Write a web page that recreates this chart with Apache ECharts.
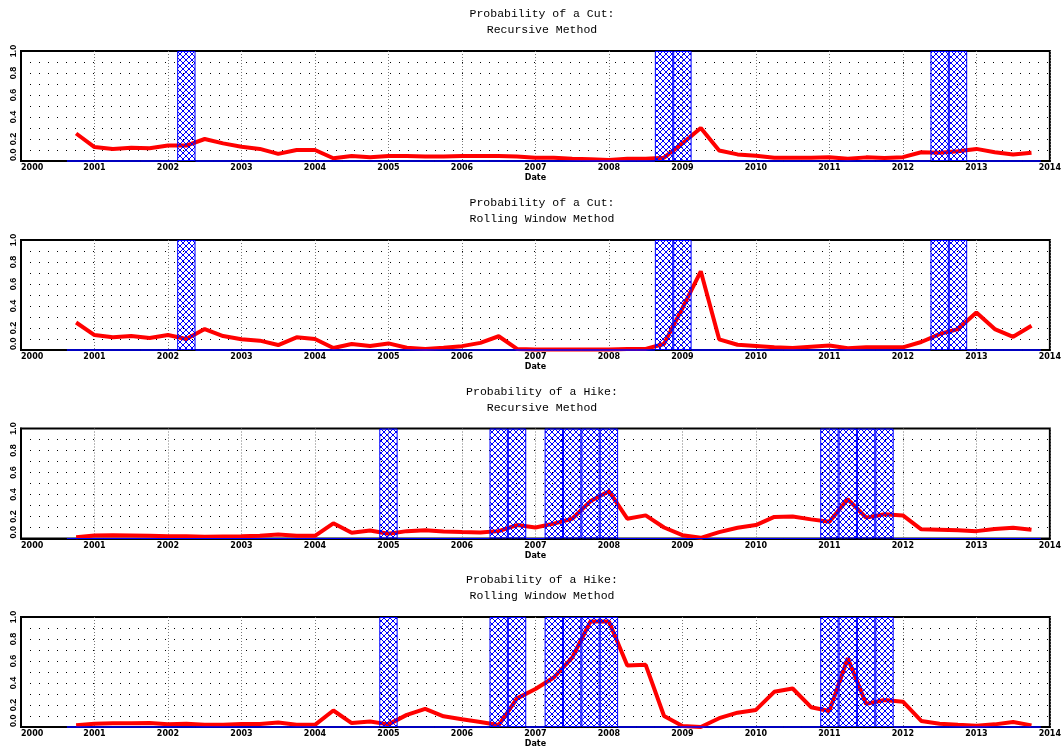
<!DOCTYPE html>
<html>
<head>
<meta charset="utf-8">
<script src="https://cdn.jsdelivr.net/npm/echarts@6/dist/echarts.min.js"></script>
<style>
html,body{margin:0;padding:0;background:#fff;}
#chart{width:1064px;height:750px;}
</style>
</head>
<body>
<div id="chart"></div>
<script>
// Quarterly dates (decimal years)
var dates = [2000.75,2001.0,2001.25,2001.5,2001.75,2002.0,2002.25,2002.5,2002.75,2003.0,2003.25,2003.5,2003.75,
  2004.0,2004.25,2004.5,2004.75,2005.0,2005.25,2005.5,2005.75,2006.0,2006.25,2006.5,2006.75,2007.0,2007.25,2007.5,2007.75,
  2008.0,2008.25,2008.5,2008.75,2009.0,2009.25,2009.5,2009.75,2010.0,2010.25,2010.5,2010.75,2011.0,2011.25,2011.5,2011.75,
  2012.0,2012.25,2012.5,2012.75,2013.0,2013.25,2013.5,2013.75];

var cutRecursive = [0.25,0.127,0.11,0.12,0.115,0.14,0.14,0.2,0.16,0.13,0.11,0.065,0.1,0.1,0.025,0.045,0.035,0.045,
  0.045,0.04,0.04,0.045,0.045,0.045,0.04,0.03,0.03,0.02,0.015,0.01,0.02,0.02,0.03,
  0.16,0.30,0.095,0.06,0.048,0.03,0.03,0.03,0.035,0.02,0.033,0.027,0.035,0.08,0.075,0.088,0.11,0.08,0.06,0.075];

var cutRolling = [0.25,0.136,0.115,0.127,0.11,0.136,0.10,0.19,0.127,0.097,0.085,0.045,0.115,0.10,0.018,0.055,0.036,0.06,
  0.02,0.01,0.02,0.035,0.065,0.125,0.01,0.005,0.005,0.005,0.005,0.005,0.01,0.01,0.055,
  0.38,0.715,0.097,0.048,0.036,0.024,0.018,0.03,0.04,0.015,0.024,0.024,0.024,0.073,0.145,0.19,0.34,0.19,0.12,0.22];

var hikeRecursive = [0.012,0.027,0.03,0.027,0.024,0.02,0.02,0.015,0.018,0.02,0.024,0.037,0.024,0.024,0.138,0.052,0.073,0.043,
  0.067,0.076,0.064,0.058,0.055,0.067,0.122,0.1,0.135,0.18,0.34,0.43,0.18,0.21,0.10,
  0.03,0.006,0.058,0.098,0.122,0.196,0.2,0.174,0.153,0.358,0.19,0.22,0.21,0.083,0.08,0.076,0.067,0.086,0.098,0.08];

var hikeRolling = [0.015,0.03,0.033,0.033,0.036,0.024,0.03,0.02,0.02,0.027,0.027,0.04,0.02,0.02,0.15,0.036,0.05,0.024,
  0.11,0.164,0.097,0.07,0.045,0.018,0.26,0.345,0.45,0.63,0.96,0.96,0.56,0.565,0.10,
  0.01,0.0,0.08,0.13,0.155,0.32,0.35,0.18,0.146,0.625,0.21,0.245,0.23,0.055,0.03,0.02,0.012,0.024,0.046,0.015];

// Regime indicators (1 = shaded quarter)
var cutRegime = [0,0,0,0,0,0,1,0,0,0,0,0,0,0,0,0,0,0,
  0,0,0,0,0,0,0,0,0,0,0,0,0,0,1,
  1,0,0,0,0,0,0,0,0,0,0,0,0,0,1,1,0,0,0,0];
var hikeRegime = [0,0,0,0,0,0,0,0,0,0,0,0,0,0,0,0,0,1,
  0,0,0,0,0,1,1,0,1,1,1,1,0,0,0,
  0,0,0,0,0,0,0,0,1,1,1,1,0,0,0,0,0,0,0,0];

var titles = ["Probability of a Cut:\nRecursive Method",
              "Probability of a Cut:\nRolling Window Method",
              "Probability of a Hike:\nRecursive Method",
              "Probability of a Hike:\nRolling Window Method"];
var xTicks = [2000, 2014, 1];
var yTicks = [0, 1, 0.1];

var probs = [cutRecursive, cutRolling, hikeRecursive, hikeRolling];
var regimes = [cutRegime, cutRegime, hikeRegime, hikeRegime];

// hatch pattern
var pc = document.createElement('canvas');
pc.width = 6; pc.height = 6;
var ctx = pc.getContext('2d');
ctx.strokeStyle = '#0000ff';
ctx.lineWidth = 1;
ctx.beginPath();
ctx.moveTo(0,0); ctx.lineTo(6,6);
ctx.moveTo(6,0); ctx.lineTo(0,6);
ctx.stroke();

function pairs(xs, ys){ var out=[]; for (var i=0;i<xs.length;i++) out.push([xs[i], ys[i]]); return out; }

var tops = [51, 240, 428.5, 617];
var gridH = 110;
var grids=[], xAxes=[], yAxes=[], series=[], titleArr=[];
for (var k=0;k<4;k++){
  grids.push({left:21, right:9, top:tops[k], height:gridH, show:true, borderColor:'#000', borderWidth:2, backgroundColor:'#fff'});
  titleArr.push({text:titles[k], left:537, top:tops[k]-50, textAlign:'center',
    textStyle:{fontFamily:'Liberation Mono', fontSize:11.5, fontWeight:'normal', color:'#000', lineHeight:16}});
  xAxes.push({type:'value', gridIndex:k, min:xTicks[0], max:xTicks[1], interval:xTicks[2],
    name:'Date', nameLocation:'middle', nameGap:13,
    nameTextStyle:{fontFamily:'DejaVu Sans', fontWeight:'bold', fontSize:8, color:'#000'},
    axisLine:{show:true, onZero:false, lineStyle:{color:'#000', width:2}},
    axisTick:{show:false},
    axisLabel:{fontFamily:'DejaVu Sans', fontWeight:'bold', fontSize:8, color:'#000', margin:3, alignMinLabel:'left',
      formatter:function(v){return String(Math.round(v));}},
    splitLine:{show:true, lineStyle:{color:'#777', width:1, type:[1,2]}}
  });
  yAxes.push({type:'value', gridIndex:k, min:yTicks[0], max:yTicks[1], interval:yTicks[2],
    axisLine:{show:true, lineStyle:{color:'#000', width:2}},
    axisTick:{show:false},
    axisLabel:{fontFamily:'Liberation Sans', fontWeight:'bold', fontSize:9, color:'#000', rotate:90, margin:3,
      alignMinLabel:'left',
      formatter:function(v){ var n=Math.round(v*10); return (n%2===0)? (n/10).toFixed(1) : ''; }},
    splitLine:{show:true, lineStyle:{color:'#000', width:1, type:[1,8]}}
  });
  series.push({type:'line', xAxisIndex:k, yAxisIndex:k, data:pairs(dates, probs[k]), showSymbol:false,
    lineStyle:{color:'#ff0000', width:4}, z:2, animation:false});
  series.push({type:'bar', xAxisIndex:k, yAxisIndex:k, data:pairs(dates, regimes[k]), barWidth:'100%',
    itemStyle:{color:{image:pc, repeat:'repeat'}, borderColor:'#0000ff', borderWidth:1},
    z:3, animation:false});
}

var chart = echarts.init(document.getElementById('chart'), null, {renderer:'canvas'});
chart.setOption({animation:false, title:titleArr, grid:grids, xAxis:xAxes, yAxis:yAxes, series:series});
</script>
</body>
</html>
